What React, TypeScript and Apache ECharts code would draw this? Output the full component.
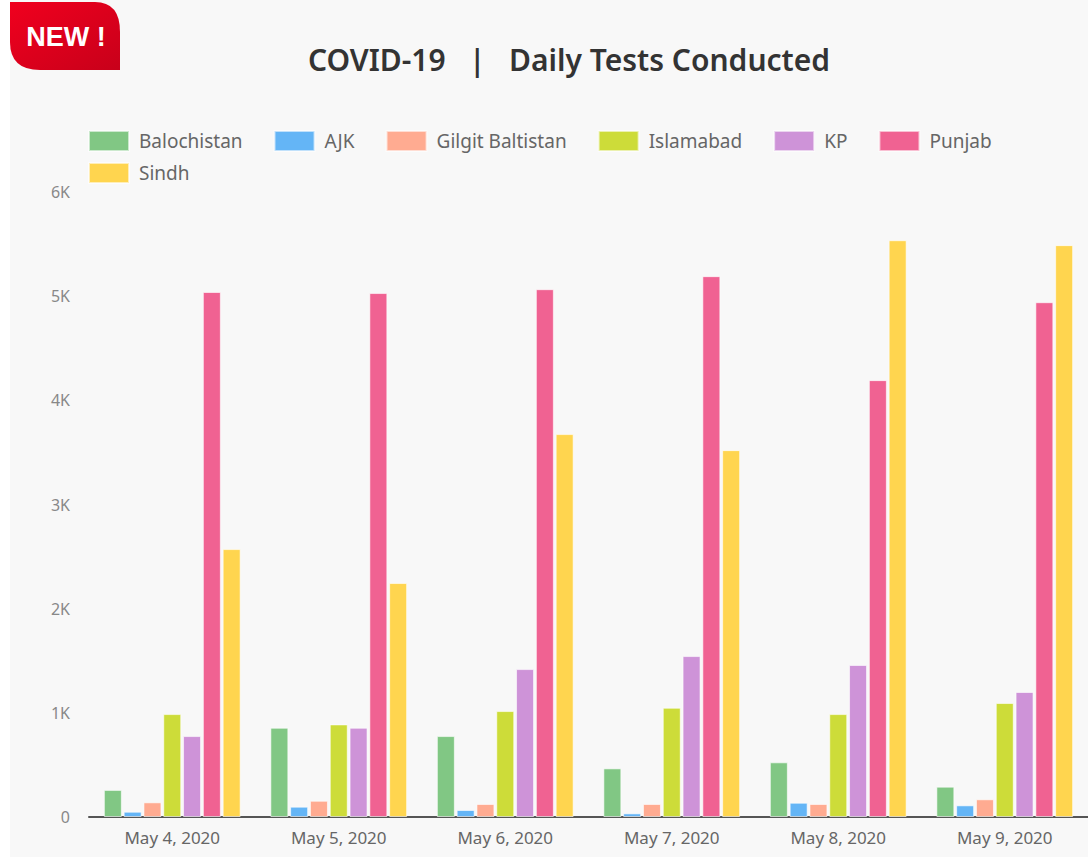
import React, { useEffect, useRef } from "react";
import * as echarts from "echarts";

const categories = ["May 4, 2020", "May 5, 2020", "May 6, 2020", "May 7, 2020", "May 8, 2020", "May 9, 2020"];
const seriesNames = ["Balochistan", "AJK", "Gilgit Baltistan", "Islamabad", "KP", "Punjab", "Sindh"];
const balochistan = [260, 857, 777, 467, 525, 291];
const ajk = [51, 99, 67, 35, 137, 112];
const gilgit = [141, 156, 125, 125, 125, 170];
const islamabad = [988, 889, 1017, 1049, 988, 1094];
const kp = [777, 857, 1420, 1545, 1459, 1200];
const punjab = [5040, 5030, 5067, 5192, 4194, 4942];
const sindh = [2572, 2246, 3676, 3522, 5537, 5490];
const colors = ["#81c784", "#64b5f6", "#ffab91", "#cddc39", "#ce93d8", "#f06292", "#ffd54f"];
const yTicks = { min: 0, max: 6000, interval: 1000 };

const FONT = "'Noto Sans', sans-serif";

export default function App() {
  const ref = useRef<HTMLDivElement>(null);
  useEffect(() => {
    if (!ref.current) return;
    echarts.graphic.registerShape(
      "badge",
      echarts.graphic.extendPath(
        "M0 0 L85 0 Q110 0 110 30 L110 68 L30 68 Q0 68 0 40 Z",
        {}
      )
    );
    const chart = echarts.init(ref.current, null, { renderer: "svg" });
    const values = [balochistan, ajk, gilgit, islamabad, kp, punjab, sindh];
    const legendText = { color: "#666", fontSize: 19, fontFamily: FONT, padding: [0, 0, 0, 5] };
    chart.setOption({
      animation: false,
      backgroundColor: "#ffffff",
      color: colors,
      graphic: [
        {
          type: "rect",
          z: -100,
          silent: true,
          shape: { x: 10, y: 0, width: 1078, height: 857 },
          style: { fill: "#f8f8f8" },
        },
        {
          type: "badge",
          x: 10,
          y: 2,
          z: 10,
          style: {
            fill: new echarts.graphic.LinearGradient(0, 0, 1, 1, [
              { offset: 0, color: "#f0001e" },
              { offset: 1, color: "#c8001a" },
            ]),
          },
        },
        {
          type: "text",
          x: 66,
          y: 37,
          z: 11,
          style: {
            text: "NEW !",
            fill: "#ffffff",
            font: "bold 27px 'Liberation Sans', Arial, sans-serif",
            textAlign: "center",
            textVerticalAlign: "middle",
          },
        },
        {
          type: "text",
          x: 569,
          y: 59,
          style: {
            text: "COVID-19   |   Daily Tests Conducted",
            fill: "#333333",
            font: "600 30px " + FONT,
            textAlign: "center",
            textVerticalAlign: "middle",
          },
        },
      ],
      legend: [
        {
          data: seriesNames.slice(0, 6),
          left: 83,
          top: 125,
          itemWidth: 40,
          itemHeight: 20,
          itemGap: 31,
          icon: "rect",
          textStyle: legendText,
        },
        {
          data: seriesNames.slice(6),
          left: 83,
          top: 157,
          itemWidth: 40,
          itemHeight: 20,
          icon: "rect",
          textStyle: legendText,
        },
      ],
      grid: { left: 89, right: 0, top: 192, bottom: 40, containLabel: false },
      xAxis: {
        type: "category",
        data: categories,
        axisLine: { show: true, lineStyle: { color: "#555", width: 2 } },
        axisTick: { show: false },
        axisLabel: { color: "#666", fontSize: 17, fontFamily: FONT, margin: 12 },
      },
      yAxis: {
        type: "value",
        min: yTicks.min,
        max: yTicks.max,
        interval: yTicks.interval,
        axisLine: { show: false },
        axisTick: { show: false },
        splitLine: { show: false },
        axisLabel: {
          color: "#888",
          fontSize: 16,
          fontFamily: FONT,
          margin: 19,
          formatter: (v: number) => (v === 0 ? "0" : v / 1000 + "K"),
        },
      },
      series: seriesNames.map((name, i) => ({
        name,
        type: "bar",
        data: values[i],
        barWidth: 18,
        barGap: "10%",
        itemStyle: { color: colors[i], borderColor: "rgba(255,255,255,0.6)", borderWidth: 1 },
      })),
    });
    return () => chart.dispose();
  }, []);
  return (
    <div
      ref={ref}
      style={{ position: "absolute", left: 0, top: 0, width: 1088, height: 857 }}
    />
  );
}
